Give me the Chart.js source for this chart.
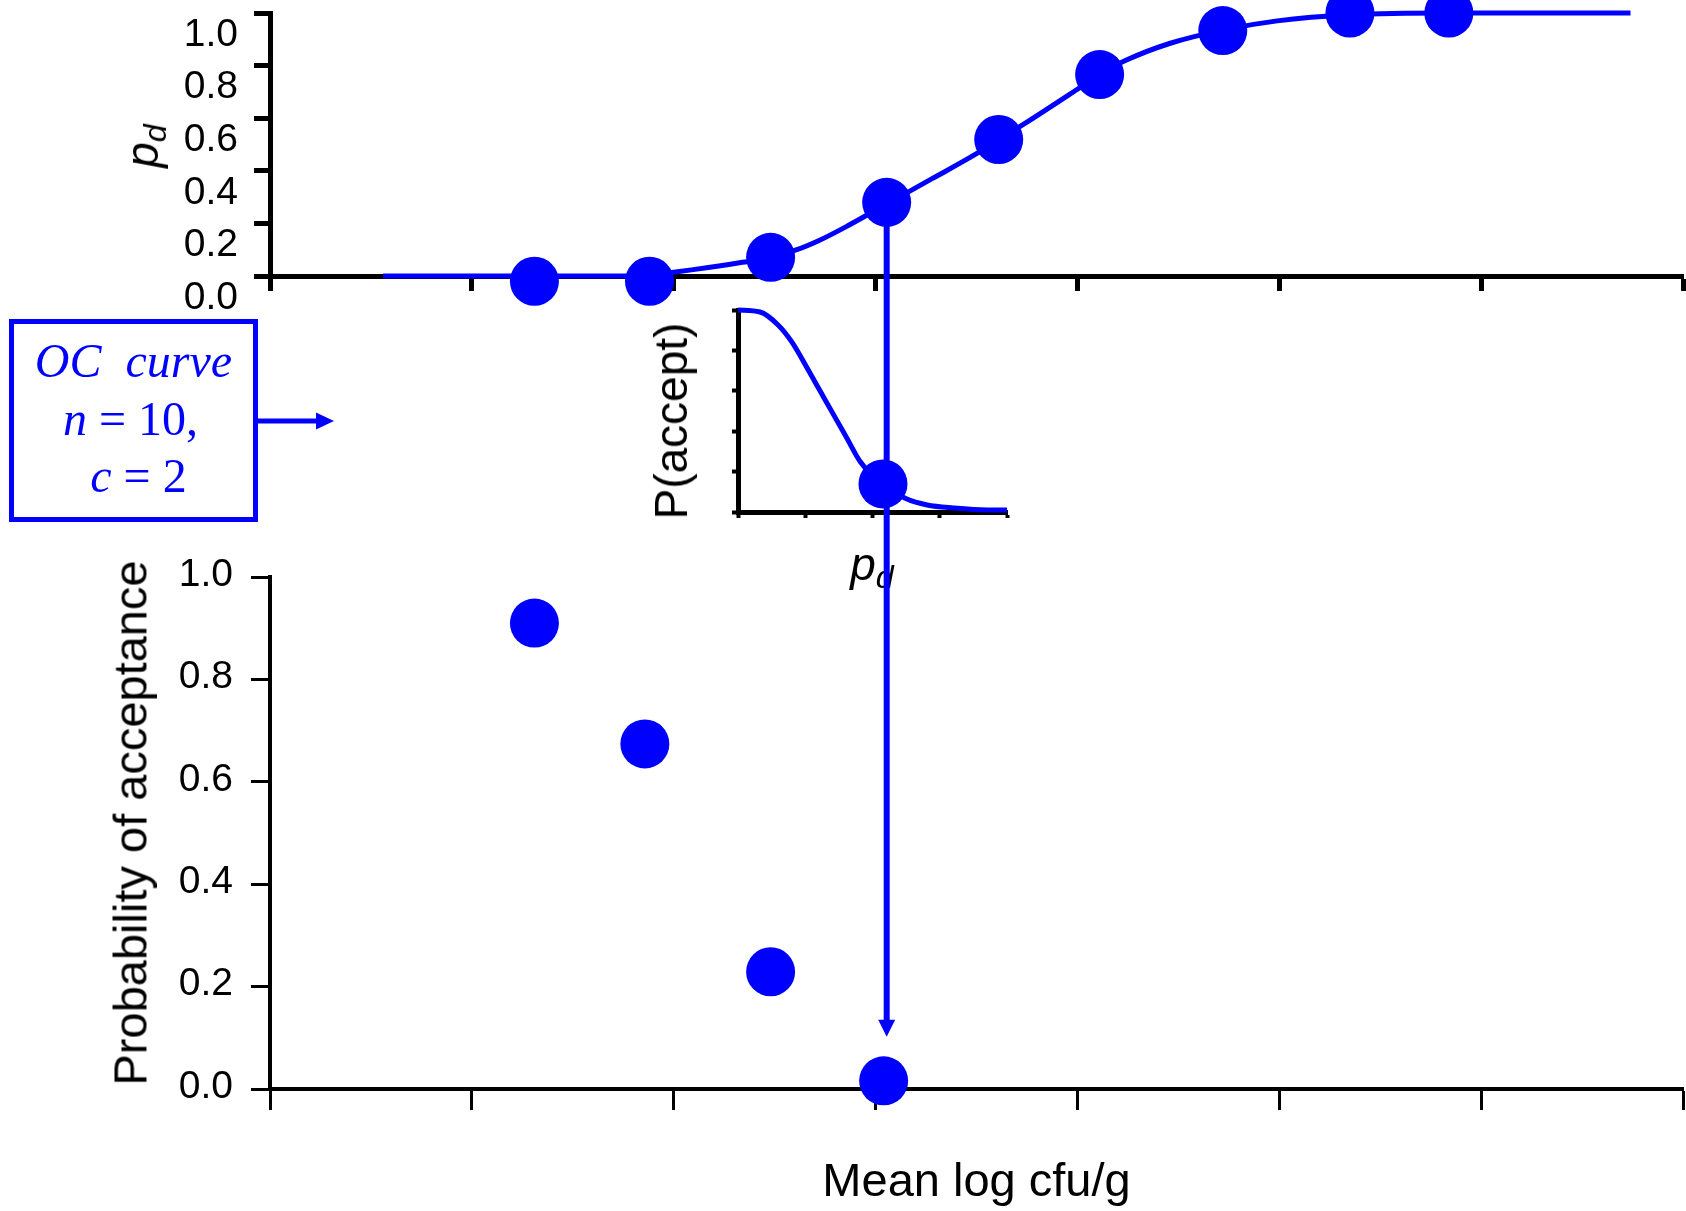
<!DOCTYPE html>
<html>
<head>
<meta charset="utf-8">
<title>Sampling plan: p_d and probability of acceptance</title>
<script src="https://cdn.jsdelivr.net/npm/chart.js@4.4.1/dist/chart.umd.min.js"></script>
<style>
  html, body { margin: 0; padding: 0; background: #fff; }
  #stage { position: relative; width: 1686px; height: 1211px; overflow: hidden; background: #fff;
           font-family: "Liberation Sans", Arial, sans-serif; }
  #stage canvas { position: absolute; left: 0; top: 0; width: 1686px; height: 1211px; }
  .lbl { position: absolute; white-space: nowrap; line-height: 1; color: #000;
         transform: translate(-50%, -50%); }
  .rot { transform: translate(-50%, -50%) rotate(-90deg); }
  .pd .p { font-style: italic; }
  .pd .d { font-style: italic; font-size: 0.7em; position: relative; top: 0.24em; }
  #ocBox { position: absolute; left: 9px; top: 319px; width: 249px; height: 203px; box-sizing: border-box;
           border: 5px solid #0000ff; color: #0000ff; padding-top: 8px;
           font-family: "Liberation Serif", "Times New Roman", serif; font-size: 48px; text-align: center; }
  #ocBox div { line-height: 57.5px; white-space: nowrap; }
  #ocArrow { position: absolute; left: 0; top: 0; }
</style>
</head>
<body>
<div id="stage">
  <canvas id="topChart" width="1686" height="1211"></canvas>
  <canvas id="ocChart" width="1686" height="1211"></canvas>

  <div class="lbl rot pd" style="left:142px; top:146px; font-size:46px;"><span class="p">p</span><span class="d">d</span></div>
  <div class="lbl rot" style="left:671px; top:421px; font-size:46px;">P(accept)</div>
  <div class="lbl pd" style="left:872px; top:564px; font-size:46px;"><span class="p">p</span><span class="d">d</span></div>
  <div class="lbl rot" style="left:130px; top:823px; font-size:47px;">Probability of acceptance</div>

  <div id="ocBox">
    <div><i>OC</i>&nbsp; <i>curve</i></div>
    <div style="padding-right:6px;"><i>n</i> = 10,</div>
    <div style="padding-left:10px;"><i>c</i> = 2</div>
  </div>
  <svg id="ocArrow" width="340" height="440">
    <line x1="258" y1="421" x2="318" y2="421" stroke="#0000ff" stroke-width="5"/>
    <polygon points="316,412.5 334,421 316,429.5" fill="#0000ff"/>
  </svg>

  <canvas id="acceptChart" width="1686" height="1211"></canvas>
</div>

<script>
const BLUE = '#0000ff';

// Mean log cfu/g of the lots that were sampled
const lotMeans = [1.31, 1.88, 2.48, 3.055, 3.61, 4.11, 4.72, 5.35, 5.84];
// Proportion of defective units p_d for each lot
const lotPd = [-0.02, -0.02, 0.071, 0.28, 0.519, 0.766, 0.933, 1.0, 1.0];

// Smooth p_d curve against mean log cfu/g
const pdCurveMeans  = [0.56, 1.88, 2.0, 2.18, 2.34, 2.48, 2.61, 2.72, 2.86, 3.06, 3.28, 3.5, 3.61, 3.75, 4.0, 4.11, 4.24, 4.46, 4.72, 4.99, 5.35, 5.84, 6.74];
const pdCurveValues = [0.0, 0.0, 0.014, 0.033, 0.052, 0.071, 0.1, 0.135, 0.19, 0.276, 0.37, 0.465, 0.519, 0.585, 0.71, 0.766, 0.82, 0.885, 0.935, 0.97, 0.993, 1.0, 1.0];

// Probability of acceptance for the first four lots
const acceptMeans = [1.31, 1.857, 2.48, 3.04];
const acceptProb  = [0.91, 0.674, 0.229, 0.016];

// OC curve (n = 10, c = 2): P(accept) against p_d on unit axes
const ocPd     = [0.0, 0.082, 0.149, 0.2, 0.257, 0.305, 0.353, 0.405, 0.454, 0.539, 0.628, 0.703, 0.8, 0.926, 1.0];
const ocAccept = [1.0, 0.99, 0.926, 0.842, 0.713, 0.6, 0.487, 0.365, 0.25, 0.135, 0.064, 0.035, 0.02, 0.01, 0.01];
// Operating point
const ocMarkPd = [0.539];
const ocMarkAccept = [0.139];

// Lot whose p_d is carried through the OC curve down to its acceptance probability
const linkedLot = 3;

// Tick values
const meanTicks     = [0, 1, 2, 3, 4, 5, 6, 7];
const probTicks     = [0, 0.2, 0.4, 0.6, 0.8, 1.0];
const ocPdTicks     = [0, 0.25, 0.5, 0.75, 1.0];
const ocAcceptTicks = [0, 0.2, 0.4, 0.6, 0.8, 1.0];

Chart.defaults.font.family = '"Liberation Sans", Arial, sans-serif';
Chart.defaults.color = '#000';

const pts = (xs, ys) => xs.map((x, i) => ({ x, y: ys[i] }));

function zeroPad(s) { s.paddingTop = 0; s.paddingBottom = 0; s.paddingLeft = 0; s.paddingRight = 0; }

function xAxis(ticks, o) {
  return {
    type: 'linear', position: 'bottom', min: ticks[0], max: ticks[ticks.length - 1],
    afterBuildTicks: s => { s.ticks = ticks.map(v => ({ value: v })); },
    ticks: { display: false },
    grid: { drawOnChartArea: false, drawTicks: true, tickLength: o.tickLength, tickWidth: o.tickWidth, tickColor: '#000' },
    border: { display: true, color: '#000', width: o.border },
    title: o.title || { display: false },
    afterFit: s => { s.height = o.height; zeroPad(s); }
  };
}

function yAxis(ticks, o) {
  return {
    type: 'linear', position: 'left', min: ticks[0], max: ticks[ticks.length - 1],
    afterBuildTicks: s => { s.ticks = ticks.map(v => ({ value: v })); },
    ticks: {
      display: o.labels, callback: v => Number(v).toFixed(1),
      font: { size: 39 }, color: '#000', padding: o.pad || 0, labelOffset: o.labelOffset || 0
    },
    grid: { drawOnChartArea: false, drawTicks: true, tickLength: o.tickLength, tickWidth: o.tickWidth, tickColor: '#000' },
    border: { display: true, color: '#000', width: o.border },
    afterFit: s => { s.width = o.width; zeroPad(s); }
  };
}

const base = {
  responsive: false, animation: false, events: [],
  plugins: { legend: { display: false }, tooltip: { enabled: false } }
};

// Upper panel: p_d against mean log cfu/g
const topChart = new Chart(document.getElementById('topChart'), {
  type: 'scatter',
  data: {
    datasets: [
      { data: pts(lotMeans, lotPd), backgroundColor: BLUE, borderWidth: 0, pointRadius: 24.5, clip: false, order: 0 },
      { data: pts(pdCurveMeans, pdCurveValues), showLine: true, borderColor: BLUE, borderWidth: 5,
        pointRadius: 0, cubicInterpolationMode: 'monotone', clip: false, order: 1 }
    ]
  },
  options: Object.assign({}, base, {
    layout: { autoPadding: false, padding: { left: 0, right: 3, top: 13, bottom: 920 } },
    scales: {
      x: xAxis(meanTicks, { height: 15, tickLength: 15, tickWidth: 5, border: 5 }),
      y: yAxis(probTicks, { width: 270, labels: true, pad: 16, labelOffset: 22, tickLength: 16, tickWidth: 5, border: 5 })
    }
  })
});

// Inset: OC curve, P(accept) against p_d
const ocChart = new Chart(document.getElementById('ocChart'), {
  type: 'scatter',
  data: {
    datasets: [
      { data: pts(ocMarkPd, ocMarkAccept), backgroundColor: BLUE, borderWidth: 0, pointRadius: 24.5, clip: false, order: 0 },
      { data: pts(ocPd, ocAccept), showLine: true, borderColor: BLUE, borderWidth: 5,
        pointRadius: 0, cubicInterpolationMode: 'monotone', clip: false, order: 1 }
    ]
  },
  options: Object.assign({}, base, {
    layout: { autoPadding: false, padding: { left: 0, right: 679, top: 310, bottom: 689 } },
    scales: {
      x: xAxis(ocPdTicks, { height: 10, tickLength: 6, tickWidth: 4, border: 5 }),
      y: yAxis(ocAcceptTicks, { width: 738, labels: false, tickLength: 6, tickWidth: 4, border: 5 })
    }
  })
});

// Vertical guide from the linked lot's p_d, through the OC curve, down to its acceptance probability
const guideArrow = {
  id: 'guideArrow',
  afterDraw(chart) {
    const ctx = chart.ctx;
    const x = topChart.scales.x.getPixelForValue(lotMeans[linkedLot]);
    const yFrom = topChart.scales.y.getPixelForValue(lotPd[linkedLot]);
    const yDot = chart.scales.y.getPixelForValue(acceptProb[linkedLot]);
    const tip = yDot - 44;
    const head = 17;
    ctx.save();
    ctx.strokeStyle = BLUE;
    ctx.fillStyle = BLUE;
    ctx.lineWidth = 6;
    ctx.beginPath();
    ctx.moveTo(x, yFrom);
    ctx.lineTo(x, tip - head + 2);
    ctx.stroke();
    ctx.beginPath();
    ctx.moveTo(x - head / 2, tip - head);
    ctx.lineTo(x + head / 2, tip - head);
    ctx.lineTo(x, tip);
    ctx.closePath();
    ctx.fill();
    ctx.restore();
  }
};

// Lower panel: probability of acceptance against mean log cfu/g
new Chart(document.getElementById('acceptChart'), {
  type: 'scatter',
  data: {
    datasets: [
      { data: pts(acceptMeans, acceptProb), backgroundColor: BLUE, borderWidth: 0, pointRadius: 24.5, clip: false }
    ]
  },
  options: Object.assign({}, base, {
    layout: { autoPadding: false, padding: { left: 0, right: 3, top: 577, bottom: 0 } },
    scales: {
      x: xAxis(meanTicks, {
        height: 122, tickLength: 21, tickWidth: 3, border: 4,
        title: { display: true, text: 'Mean log cfu/g', font: { size: 47 }, color: '#000', padding: { top: 0, bottom: 0 } }
      }),
      y: yAxis(probTicks, { width: 270, labels: true, pad: 18, labelOffset: -2, tickLength: 19, tickWidth: 3, border: 4 })
    }
  }),
  plugins: [guideArrow]
});
</script>
</body>
</html>
